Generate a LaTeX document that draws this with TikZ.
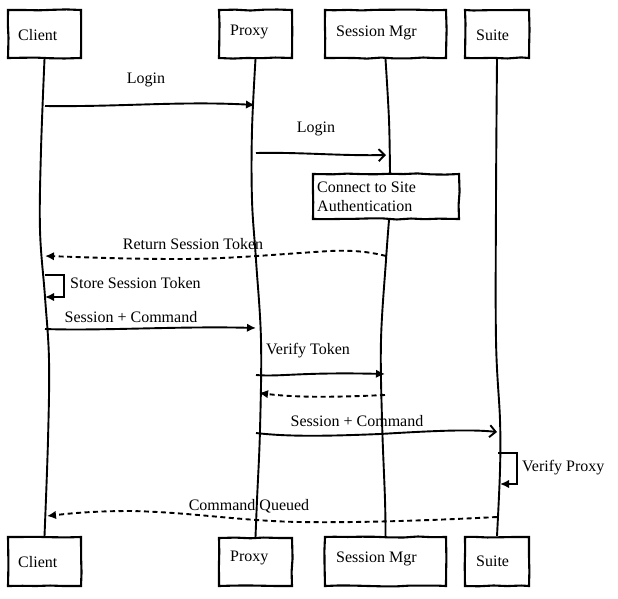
\documentclass[tikz,border=0pt]{standalone}
\usepackage{fontspec}
\setmainfont{Liberation Serif}
\usetikzlibrary{arrows.meta,decorations.pathmorphing}
\begin{document}
\begin{tikzpicture}[x=1pt,y=-1pt,
  box/.style={draw=black, fill=white, line width=2.1pt, inner sep=0pt,
    decorate, decoration={random steps, segment length=14pt, amplitude=0.6pt}},
  txt/.style={inner sep=0pt, font=\fontsize{16}{19}\selectfont},
  life/.style={line width=1.9pt},
  msg/.style={line width=1.9pt, -{Latex[length=9pt,width=8.5pt]}},
  omsg/.style={line width=1.9pt, -{Straight Barb[length=6pt,width=12pt]}},
  ret/.style={msg, dash pattern=on 5pt off 3.5pt},
]
\pgfmathsetseed{3}
\useasboundingbox (0,0) rectangle (618,598);
\fill[white] (0,0) rectangle (618,598);

% participant boxes (top)
\node[box, minimum width=73pt, minimum height=48pt] (cT) at (44.5,34) {};
\node[box, minimum width=73pt, minimum height=48pt] (pT) at (255.5,34) {};
\node[box, minimum width=121pt, minimum height=48pt] (sT) at (385.5,34) {};
\node[box, minimum width=64pt, minimum height=48pt] (uT) at (497,34) {};
% participant boxes (bottom)
\node[box, minimum width=73pt, minimum height=49pt] (cB) at (44.5,561.5) {};
\node[box, minimum width=73pt, minimum height=48pt] (pB) at (255.5,562) {};
\node[box, minimum width=121pt, minimum height=49pt] (sB) at (385.5,561.5) {};
\node[box, minimum width=64pt, minimum height=49pt] (uB) at (497,561.5) {};
% activity box
\node[box, minimum width=146pt, minimum height=45pt] (con) at (386,196.5) {};

% box texts
\node[txt, anchor=base west] (cTt) at (18,40) {Client};
\node[txt, anchor=base west] (pTt) at (230,35) {Proxy};
\node[txt, anchor=base west] (sTt) at (336,36) {Session Mgr};
\node[txt, anchor=base west] (uTt) at (476,40) {Suite};
\node[txt, anchor=base west] (cBt) at (18,567) {Client};
\node[txt, anchor=base west] (pBt) at (230,561) {Proxy};
\node[txt, anchor=base west] (sBt) at (336,562) {Session Mgr};
\node[txt, anchor=base west] (uBt) at (476,566) {Suite};
\node[txt, anchor=base west] (con1) at (317,192) {Connect to Site};
\node[txt, anchor=base west] (con2) at (317,211) {Authentication};

% lifelines
\draw[life] plot[smooth, tension=0.6] coordinates {(cT.south) (41,150) (40,230) (45,297) (49,360) (48,440) (cB.north)};
\draw[life] plot[smooth, tension=0.6] coordinates {(pT.south) (252,130) (252,200) (256,260) (261,340) (260,430) (257,500) (pB.north)};
\draw[life] plot[smooth, tension=0.6] coordinates {(sT.south) (389,120) (con.north -| 390,0)};
\draw[life] plot[smooth, tension=0.6] coordinates {(con.south -| 389,0) (386,260) (381,340) (382,420) (385,500) (sB.north)};
\draw[life] plot[smooth, tension=0.6] coordinates {(uT.south) (496,200) (496,340) (500,420) (500,470) (uB.north)};

% message end points
\coordinate (m1s) at (45,106);  \coordinate (m1e) at (255,105);
\coordinate (m2s) at (256,153); \coordinate (m2e) at (386,155);
\coordinate (m3s) at (386,256); \coordinate (m3e) at (45,256);
\coordinate (l1a) at (45,275);  \coordinate (l1b) at (45,297);
\coordinate (m4s) at (45,329);  \coordinate (m4e) at (256,328);
\coordinate (m5s) at (256,375); \coordinate (m5e) at (385,374);
\coordinate (m6s) at (385,395); \coordinate (m6e) at (259,393);
\coordinate (m7s) at (256,433); \coordinate (m7e) at (497,432);
\coordinate (l2a) at (498,453); \coordinate (l2b) at (500,484);
\coordinate (m8s) at (497,517); \coordinate (m8e) at (47,516);

% messages
\draw[msg] (m1s) .. controls (120,107) and (180,101) .. (m1e);
\node[txt, anchor=base] (t1) at (146,83) {Login};

\draw[omsg] (m2s) .. controls (300,152) and (340,156) .. (m2e);
\node[txt, anchor=base] (t2) at (316,132) {Login};

\draw[ret] (m3s) .. controls (370,252) and (355,250) .. (330,251)
  .. controls (280,254) and (230,259) .. (180,259)
  .. controls (120,259) and (80,257) .. (m3e);
\node[txt, anchor=base] (t3) at (193,249) {Return Session Token};

\draw[msg] (l1a) -- ++(19,0) |- (l1b);
\node[txt, anchor=base west] (t4) at (70,288) {Store Session Token};

\draw[msg] (m4s) .. controls (100,331) and (180,326) .. (m4e);
\node[txt, anchor=base] (t5) at (131,322) {Session + Command};

\draw[msg] (m5s) .. controls (280,377) and (300,372) .. (m5e);
\node[txt, anchor=base west] (t6) at (266,354) {Verify Token};

\draw[ret] (m6s) .. controls (340,397) and (300,398) .. (m6e);

\draw[omsg] (m7s) .. controls (290,437) and (330,436) .. (380,434)
  .. controls (430,431) and (470,429) .. (m7e);
\node[txt, anchor=base] (t7) at (357,426) {Session + Command};

\draw[msg] (l2a) -- (517,453) |- (l2b);
\node[txt, anchor=base west] (t8) at (522,471) {Verify Proxy};

\draw[ret] (m8s) .. controls (440,520) and (360,523) .. (300,522)
  .. controls (240,521) and (190,512) .. (130,511)
  .. controls (90,511) and (65,514) .. (m8e);
\node[txt, anchor=base] (t9) at (249,510) {Command Queued};
\end{tikzpicture}
\end{document}
